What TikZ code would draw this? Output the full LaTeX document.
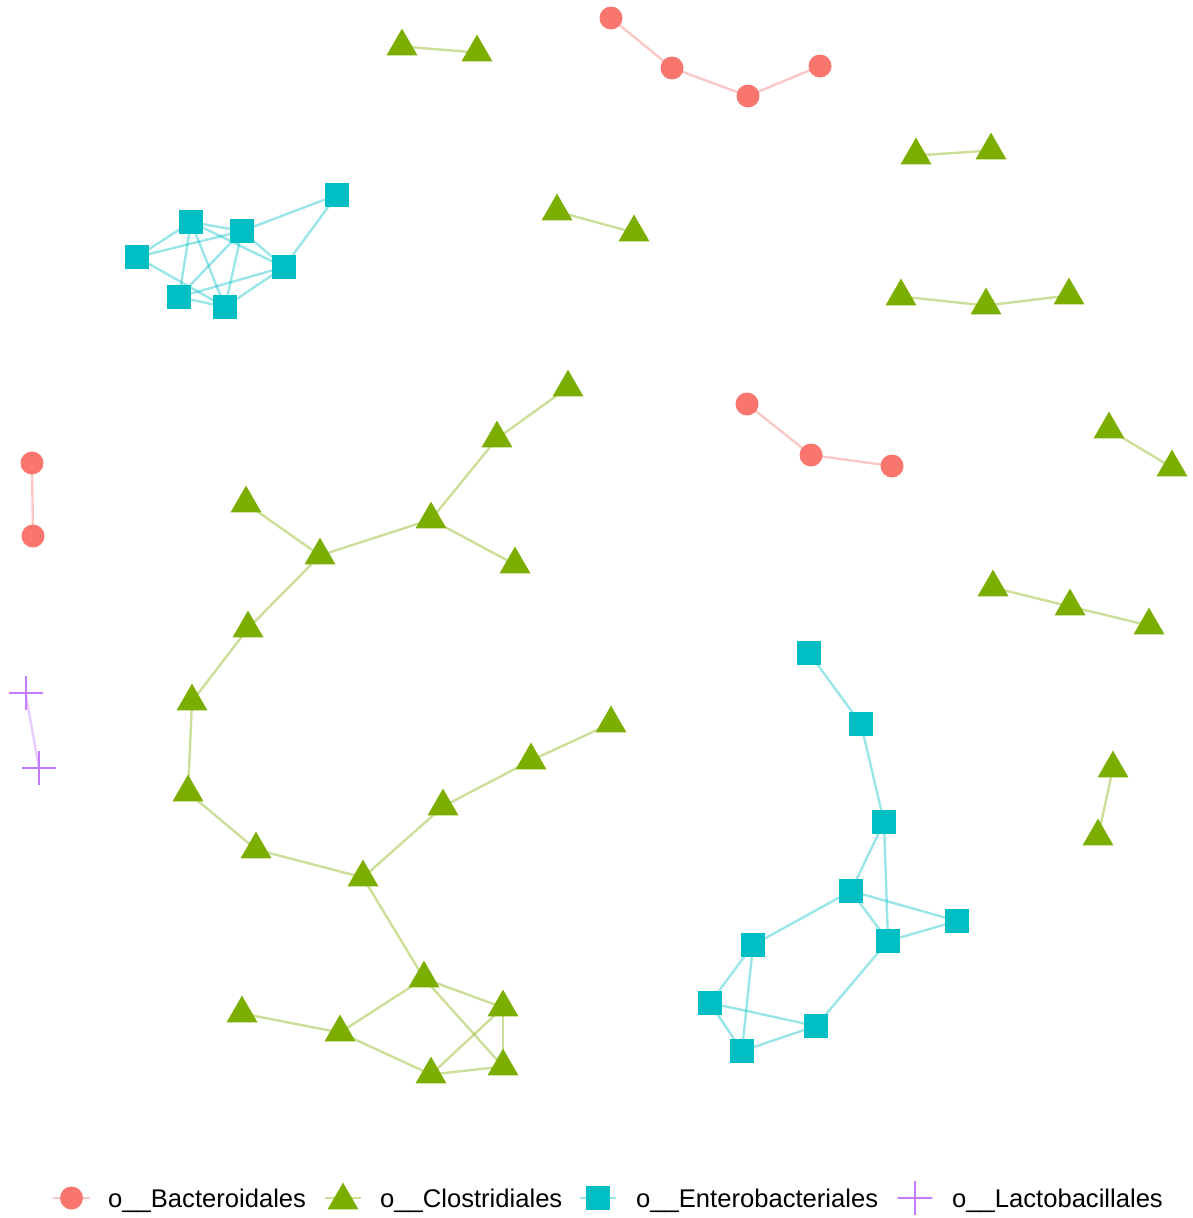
\documentclass[tikz,border=0pt]{standalone}
\usepackage{fontspec}
\setmainfont{Liberation Sans}
\usetikzlibrary{shapes.geometric,backgrounds}
\definecolor{cred}{HTML}{F8766D}
\definecolor{cgreen}{HTML}{7CAE00}
\definecolor{cblue}{HTML}{00BFC4}
\definecolor{cpurple}{HTML}{C77CFF}
\tikzset{
  tri/.style={regular polygon, regular polygon sides=3, fill=cgreen, minimum size=35.8pt, inner sep=0pt, yshift=-4.5pt},
  circ/.style={circle, fill=cred, minimum size=23pt, inner sep=0pt},
  sq/.style={rectangle, fill=cblue, minimum size=24pt, inner sep=0pt},
  crossmark/.style={minimum size=1pt, inner sep=0pt},
  redge/.style={draw=cred, opacity=0.4, line width=2.4pt},
  gedge/.style={draw=cgreen, opacity=0.4, line width=2.4pt},
  bedge/.style={draw=cblue, opacity=0.4, line width=2.4pt},
  pedge/.style={draw=cpurple, opacity=0.4, line width=2.4pt},
  crossarm/.style={draw=cpurple, line width=2pt},
  legtext/.style={anchor=base west, font=\fontsize{25.6}{30}\selectfont, inner sep=0pt},
}
\begin{document}
\begin{tikzpicture}[x=1pt,y=-1pt]
\useasboundingbox (0,0) rectangle (1193,1218);
% red nodes
\node[circ] (r1) at (611,18) {};
\node[circ] (r2) at (672,68) {};
\node[circ] (r3) at (748,96) {};
\node[circ] (r4) at (820,66) {};
\node[circ] (r5) at (747,404) {};
\node[circ] (r6) at (811,455) {};
\node[circ] (r7) at (892,466) {};
\node[circ] (r8) at (32,463) {};
\node[circ] (r9) at (33,536) {};
% green small groups
\node[tri] (g1) at (402,42) {};
\node[tri] (g2) at (477,48) {};
\node[tri] (g3) at (916,151) {};
\node[tri] (g4) at (991,146) {};
\node[tri] (g5) at (557,207) {};
\node[tri] (g6) at (634,228) {};
\node[tri] (g7) at (901,292) {};
\node[tri] (g8) at (986,301) {};
\node[tri] (g9) at (1069,291) {};
\node[tri] (g10) at (1109,425) {};
\node[tri] (g11) at (1172,463) {};
\node[tri] (g12) at (993,583) {};
\node[tri] (g13) at (1070,602) {};
\node[tri] (g14) at (1149,621) {};
\node[tri] (g15) at (1113,764) {};
\node[tri] (g16) at (1098,832) {};
% green tree
\node[tri] (t1) at (568,383) {};
\node[tri] (t2) at (497,434) {};
\node[tri] (t3) at (431,515) {};
\node[tri] (t4) at (515,560) {};
\node[tri] (t5) at (246,499) {};
\node[tri] (t6) at (320,551) {};
\node[tri] (t7) at (248,624) {};
\node[tri] (t8) at (192,697) {};
\node[tri] (t9) at (188,788) {};
\node[tri] (t10) at (256,845) {};
\node[tri] (t11) at (363,873) {};
\node[tri] (t12) at (443,802) {};
\node[tri] (t13) at (531,756) {};
\node[tri] (t14) at (611,719) {};
\node[tri] (t15) at (424,974) {};
\node[tri] (t16) at (503,1003) {};
\node[tri] (t17) at (503,1062) {};
\node[tri] (t18) at (431,1070) {};
\node[tri] (t19) at (340,1028) {};
\node[tri] (t20) at (242,1009) {};
% blue cluster 1
\node[sq] (ba) at (337,195) {};
\node[sq] (bb) at (191,222) {};
\node[sq] (bc) at (242,231) {};
\node[sq] (bd) at (137,257) {};
\node[sq] (be) at (284,267) {};
\node[sq] (bf) at (179,297) {};
\node[sq] (bg) at (225,307) {};
% blue cluster 2
\node[sq] (p1) at (809,653) {};
\node[sq] (p2) at (861,724) {};
\node[sq] (p3) at (884,822) {};
\node[sq] (p4) at (851,891) {};
\node[sq] (p5) at (957,921) {};
\node[sq] (p6) at (888,941) {};
\node[sq] (p7) at (753,945) {};
\node[sq] (p8) at (710,1003) {};
\node[sq] (p9) at (816,1026) {};
\node[sq] (p10) at (742,1051) {};
% purple crosses
\node[crossmark] (c1) at (25.5,692.5) {};
\node[crossmark] (c2) at (39,768) {};
\draw[crossarm] ([xshift=-17pt]c1.center) -- ([xshift=17pt]c1.center);
\draw[crossarm] ([yshift=-17pt]c1.center) -- ([yshift=17pt]c1.center);
\draw[crossarm] ([xshift=-17pt]c2.center) -- ([xshift=17pt]c2.center);
\draw[crossarm] ([yshift=-17pt]c2.center) -- ([yshift=17pt]c2.center);
% legend
\coordinate (la1) at (53,1198); \coordinate (la2) at (90,1198);
\coordinate (lb1) at (325,1198); \coordinate (lb2) at (361,1198);
\coordinate (lc1) at (580,1198); \coordinate (lc2) at (616,1198);
\coordinate (ld1) at (897,1198); \coordinate (ld2) at (933,1198);
\node[circ] (lka) at (71.5,1198) {};
\node[tri] (lkb) at (343,1196) {};
\node[sq] (lkc) at (598,1198) {};
\node[crossmark] (lkd) at (915,1198) {};
\draw[crossarm] ([xshift=-17pt]lkd.center) -- ([xshift=17pt]lkd.center);
\draw[crossarm] ([yshift=-17pt]lkd.center) -- ([yshift=17pt]lkd.center);
\node[legtext] (lta) at (108,1207) {o\_\_Bacteroidales};
\node[legtext] (ltb) at (380,1207) {o\_\_Clostridiales};
\node[legtext] (ltc) at (636,1207) {o\_\_Enterobacteriales};
\node[legtext] (ltd) at (952,1207) {o\_\_Lactobacillales};
\begin{pgfonlayer}{background}
\draw[redge] (r1.center) -- (r2.center) -- (r3.center) -- (r4.center);
\draw[redge] (r5.center) -- (r6.center) -- (r7.center);
\draw[redge] (r8.center) -- (r9.center);
\draw[gedge] (g1.center) -- (g2.center);
\draw[gedge] (g3.center) -- (g4.center);
\draw[gedge] (g5.center) -- (g6.center);
\draw[gedge] (g7.center) -- (g8.center) -- (g9.center);
\draw[gedge] (g10.center) -- (g11.center);
\draw[gedge] (g12.center) -- (g13.center) -- (g14.center);
\draw[gedge] (g15.center) -- (g16.center);
\draw[gedge] (t1.center) -- (t2.center);
\draw[gedge] (t2.center) -- (t3.center);
\draw[gedge] (t3.center) -- (t4.center);
\draw[gedge] (t3.center) -- (t6.center);
\draw[gedge] (t5.center) -- (t6.center);
\draw[gedge] (t6.center) -- (t7.center);
\draw[gedge] (t7.center) -- (t8.center);
\draw[gedge] (t8.center) -- (t9.center);
\draw[gedge] (t9.center) -- (t10.center);
\draw[gedge] (t10.center) -- (t11.center);
\draw[gedge] (t11.center) -- (t12.center);
\draw[gedge] (t12.center) -- (t13.center);
\draw[gedge] (t13.center) -- (t14.center);
\draw[gedge] (t11.center) -- (t15.center);
\draw[gedge] (t15.center) -- (t16.center);
\draw[gedge] (t15.center) -- (t17.center);
\draw[gedge] (t15.center) -- (t19.center);
\draw[gedge] (t16.center) -- (t17.center);
\draw[gedge] (t16.center) -- (t18.center);
\draw[gedge] (t17.center) -- (t18.center);
\draw[gedge] (t18.center) -- (t19.center);
\draw[gedge] (t19.center) -- (t20.center);
\draw[bedge] (ba.center) -- (bc.center);
\draw[bedge] (ba.center) -- (be.center);
\draw[bedge] (bb.center) -- (bc.center);
\draw[bedge] (bb.center) -- (bd.center);
\draw[bedge] (bb.center) -- (be.center);
\draw[bedge] (bb.center) -- (bf.center);
\draw[bedge] (bb.center) -- (bg.center);
\draw[bedge] (bc.center) -- (bd.center);
\draw[bedge] (bc.center) -- (be.center);
\draw[bedge] (bc.center) -- (bf.center);
\draw[bedge] (bc.center) -- (bg.center);
\draw[bedge] (bd.center) -- (bg.center);
\draw[bedge] (be.center) -- (bf.center);
\draw[bedge] (be.center) -- (bg.center);
\draw[bedge] (bf.center) -- (bg.center);
\draw[bedge] (p1.center) -- (p2.center);
\draw[bedge] (p2.center) -- (p3.center);
\draw[bedge] (p3.center) -- (p4.center);
\draw[bedge] (p3.center) -- (p6.center);
\draw[bedge] (p4.center) -- (p5.center);
\draw[bedge] (p4.center) -- (p6.center);
\draw[bedge] (p4.center) -- (p7.center);
\draw[bedge] (p6.center) -- (p5.center);
\draw[bedge] (p6.center) -- (p9.center);
\draw[bedge] (p7.center) -- (p8.center);
\draw[bedge] (p7.center) -- (p10.center);
\draw[bedge] (p8.center) -- (p9.center);
\draw[bedge] (p8.center) -- (p10.center);
\draw[bedge] (p10.center) -- (p9.center);
\draw[pedge] (c1.center) -- (c2.center);
\draw[redge] (la1) -- (la2);
\draw[gedge] (lb1) -- (lb2);
\draw[bedge] (lc1) -- (lc2);
\draw[pedge] (ld1) -- (ld2);
\end{pgfonlayer}
\end{tikzpicture}
\end{document}
